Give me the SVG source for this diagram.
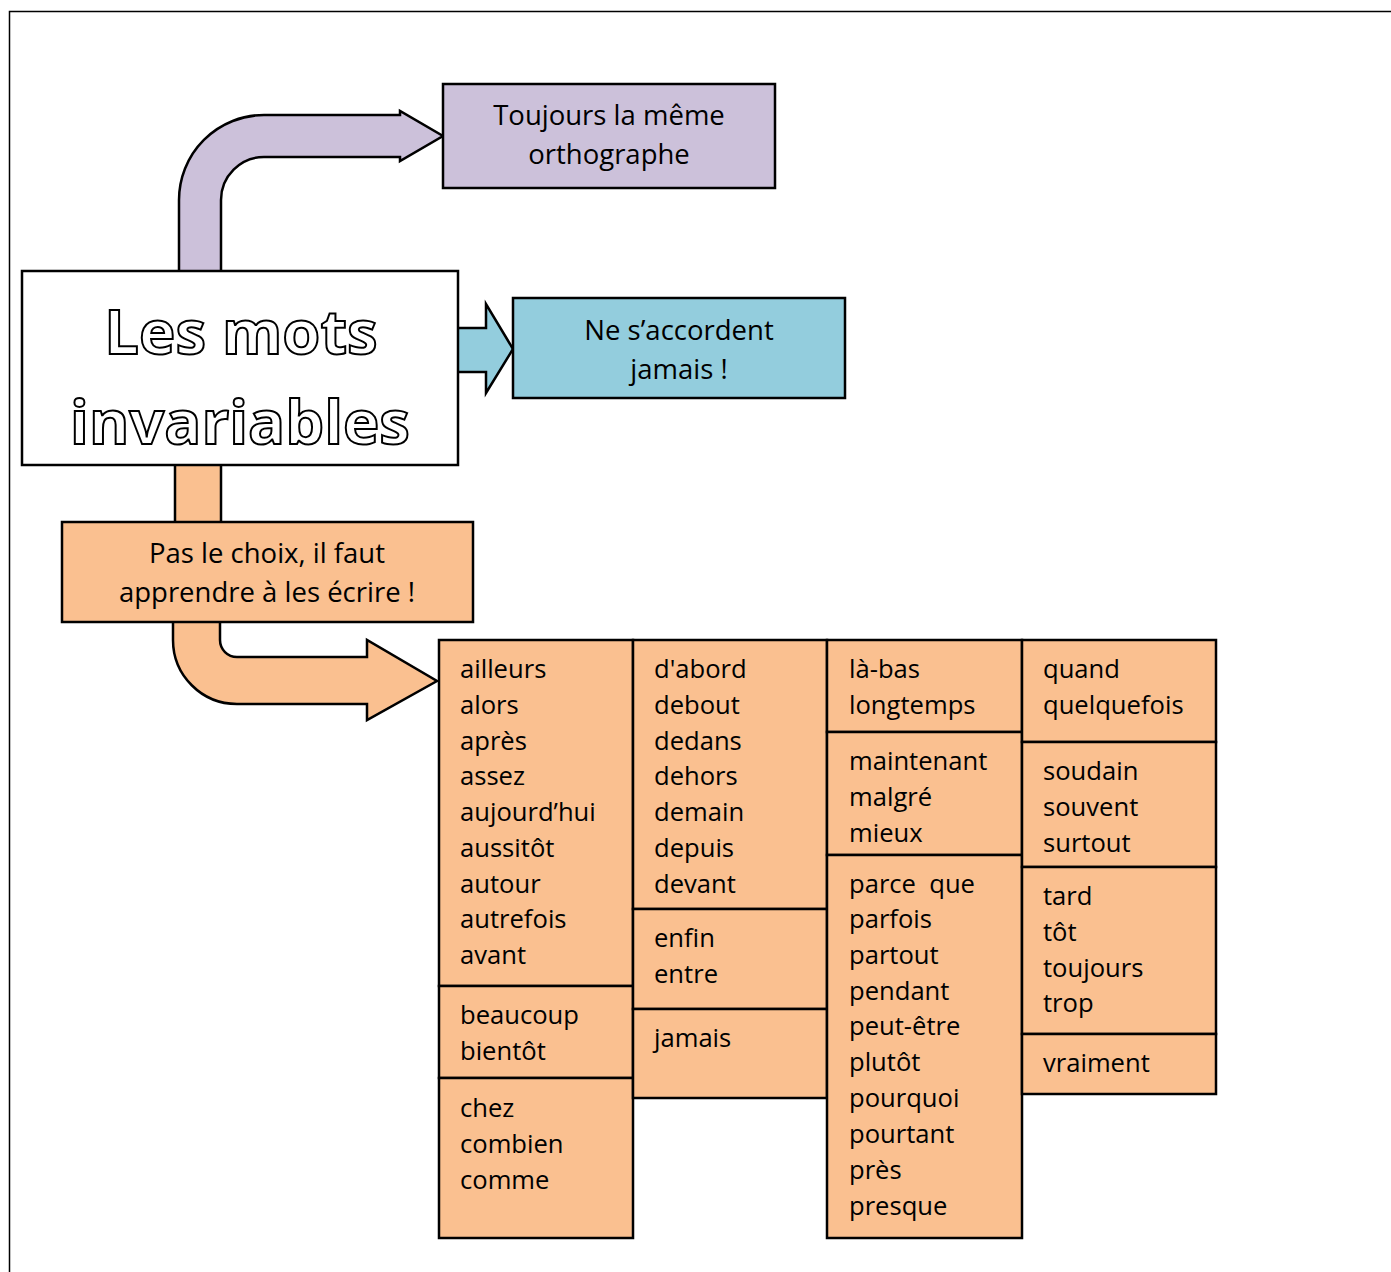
<svg xmlns="http://www.w3.org/2000/svg" width="1391" height="1272" viewBox="0 0 1391 1272">
<style>
  .box { stroke: #000; stroke-width: 2.5; }
  .purple { fill: #CCC1DA; }
  .blue { fill: #93CDDD; }
  .orange { fill: #FAC090; }
  .white { fill: #FFFFFF; }
  .arrow { stroke: #000; stroke-width: 2.5; stroke-linejoin: miter; }
  .t { font-family: "Open Sans", "Noto Sans", sans-serif; fill: #000; }
  .big { font-size: 27.5px; text-anchor: middle; }
  .mid { font-size: 27.5px; text-anchor: middle; }
  .w { font-size: 25.6px; }
  .title { font-family: "Open Sans", "Noto Sans", sans-serif; font-size: 61.5px; font-weight: bold; fill: #FFFFFF; stroke: #000; stroke-width: 2; text-anchor: middle; }
</style>
<rect x="0" y="0" width="1391" height="1272" fill="#FFFFFF"/>
<rect x="9.5" y="11.5" width="1400" height="1300" fill="none" stroke="#000" stroke-width="1.5"/>

<g id="connectors">
  <path class="arrow purple" d="M179,272 L179,200 A85,85 0 0 1 264,115 L400,115 L400,111 L443,136 L400,161 L400,157 L264,157 A43,43 0 0 0 221,200 L221,272 Z"/>
  <polygon class="arrow blue" points="456,328 486,328 486,304 513,349 486,393 486,372 456,372"/>
  <rect class="arrow orange" x="175" y="460" width="46" height="67"/>
  <path class="arrow orange" d="M173,618 L173,640 A64,64 0 0 0 237,704 L367,704 L367,720 L437,681 L367,640 L367,657 L237,657 A17,17 0 0 1 220,640 L220,618 Z"/>
</g>

<g id="node-title">
  <rect class="box white" x="22" y="271" width="436" height="194"/>
  <text class="title" x="241" y="354">Les mots</text>
  <text class="title" x="240" y="444">invariables</text>
</g>

<g id="node-orthographe">
  <rect class="box purple" x="443" y="84" width="332" height="104"/>
  <text class="t big" x="609" y="125">Toujours la même</text>
  <text class="t big" x="609" y="164">orthographe</text>
</g>

<g id="node-accord">
  <rect class="box blue" x="513" y="298" width="332" height="100"/>
  <text class="t big" x="679" y="340">Ne s’accordent</text>
  <text class="t big" x="679" y="379">jamais !</text>
</g>

<g id="node-choix">
  <rect class="box orange" x="62" y="522" width="411" height="100"/>
  <text class="t mid" x="267" y="563">Pas le choix, il faut</text>
  <text class="t mid" x="267" y="602">apprendre à les écrire !</text>
</g>

<g id="node-col1-a">
  <rect class="box orange" x="439" y="640" width="194" height="346"/>
  <text class="t w" x="460" y="678">ailleurs</text>
  <text class="t w" x="460" y="714">alors</text>
  <text class="t w" x="460" y="750">après</text>
  <text class="t w" x="460" y="785">assez</text>
  <text class="t w" x="460" y="821">aujourd’hui</text>
  <text class="t w" x="460" y="857">aussitôt</text>
  <text class="t w" x="460" y="893">autour</text>
  <text class="t w" x="460" y="928">autrefois</text>
  <text class="t w" x="460" y="964">avant</text>
</g>
<g id="node-col1-b">
  <rect class="box orange" x="439" y="986" width="194" height="92"/>
  <text class="t w" x="460" y="1024">beaucoup</text>
  <text class="t w" x="460" y="1060">bientôt</text>
</g>
<g id="node-col1-c">
  <rect class="box orange" x="439" y="1078" width="194" height="160"/>
  <text class="t w" x="460" y="1117">chez</text>
  <text class="t w" x="460" y="1153">combien</text>
  <text class="t w" x="460" y="1189">comme</text>
</g>

<g id="node-col2-a">
  <rect class="box orange" x="633" y="640" width="194" height="269"/>
  <text class="t w" x="654" y="678">d'abord</text>
  <text class="t w" x="654" y="714">debout</text>
  <text class="t w" x="654" y="750">dedans</text>
  <text class="t w" x="654" y="785">dehors</text>
  <text class="t w" x="654" y="821">demain</text>
  <text class="t w" x="654" y="857">depuis</text>
  <text class="t w" x="654" y="893">devant</text>
</g>
<g id="node-col2-b">
  <rect class="box orange" x="633" y="909" width="194" height="100"/>
  <text class="t w" x="654" y="947">enfin</text>
  <text class="t w" x="654" y="983">entre</text>
</g>
<g id="node-col2-c">
  <rect class="box orange" x="633" y="1009" width="194" height="89"/>
  <text class="t w" x="654" y="1047">jamais</text>
</g>

<g id="node-col3-a">
  <rect class="box orange" x="827" y="640" width="195" height="92"/>
  <text class="t w" x="849" y="678">là-bas</text>
  <text class="t w" x="849" y="714">longtemps</text>
</g>
<g id="node-col3-b">
  <rect class="box orange" x="827" y="732" width="195" height="123"/>
  <text class="t w" x="849" y="770">maintenant</text>
  <text class="t w" x="849" y="806">malgré</text>
  <text class="t w" x="849" y="842">mieux</text>
</g>
<g id="node-col3-c">
  <rect class="box orange" x="827" y="855" width="195" height="383"/>
  <text class="t w" x="849" y="893" xml:space="preserve">parce  que</text>
  <text class="t w" x="849" y="928">parfois</text>
  <text class="t w" x="849" y="964">partout</text>
  <text class="t w" x="849" y="1000">pendant</text>
  <text class="t w" x="849" y="1035">peut-être</text>
  <text class="t w" x="849" y="1071">plutôt</text>
  <text class="t w" x="849" y="1107">pourquoi</text>
  <text class="t w" x="849" y="1143">pourtant</text>
  <text class="t w" x="849" y="1179">près</text>
  <text class="t w" x="849" y="1215">presque</text>
</g>

<g id="node-col4-a">
  <rect class="box orange" x="1022" y="640" width="194" height="102"/>
  <text class="t w" x="1043" y="678">quand</text>
  <text class="t w" x="1043" y="714">quelquefois</text>
</g>
<g id="node-col4-b">
  <rect class="box orange" x="1022" y="742" width="194" height="125"/>
  <text class="t w" x="1043" y="780">soudain</text>
  <text class="t w" x="1043" y="816">souvent</text>
  <text class="t w" x="1043" y="852">surtout</text>
</g>
<g id="node-col4-c">
  <rect class="box orange" x="1022" y="867" width="194" height="167"/>
  <text class="t w" x="1043" y="905">tard</text>
  <text class="t w" x="1043" y="941">tôt</text>
  <text class="t w" x="1043" y="977">toujours</text>
  <text class="t w" x="1043" y="1012">trop</text>
</g>
<g id="node-col4-d">
  <rect class="box orange" x="1022" y="1034" width="194" height="60"/>
  <text class="t w" x="1043" y="1072">vraiment</text>
</g>
</svg>
